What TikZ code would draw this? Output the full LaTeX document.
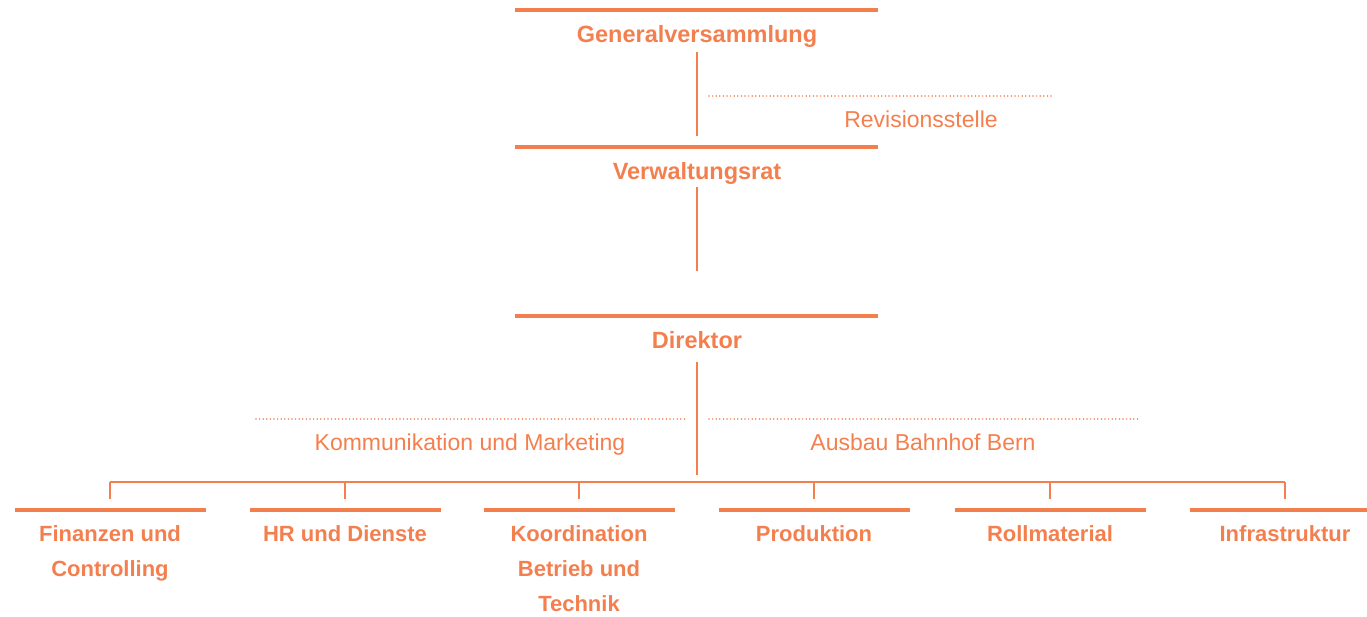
\documentclass[tikz,border=0pt]{standalone}
\usepackage{fontspec}
\setmainfont{Liberation Sans}
\definecolor{og}{HTML}{F47F4E}
\begin{document}
\begin{tikzpicture}[x=1pt,y=-1pt,
  bar/.style={draw=og,line width=4pt},
  conn/.style={draw=og,line width=1.5pt},
  dots/.style={draw=og,line width=1.7pt,dash pattern=on 0pt off 3.6pt,line cap=round},
  unit/.style={text=og,font=\fontsize{22}{35}\selectfont\bfseries,align=center,anchor=base,inner sep=0pt},
  head/.style={unit,font=\fontsize{23.5}{28}\selectfont\bfseries},
  staff/.style={text=og,font=\fontsize{23}{28}\selectfont,anchor=base,inner sep=0pt}]
\useasboundingbox (0,0) rectangle (1367,616);

% top levels
\draw[bar] (515,10) -- (878,10);
\node[head] (gv) at (697,42) {Generalversammlung};
\draw[bar] (515,147) -- (878,147);
\node[head] (vr) at (697,179) {Verwaltungsrat};
\draw[bar] (515,316) -- (878,316);
\node[head] (dir) at (697,348) {Direktor};

% trunk coordinates
\coordinate (gvb) at (697,52);
\coordinate (vrt) at (697,136);
\coordinate (vrb) at (697,187);
\coordinate (vrx) at (697,271);
\coordinate (dirb) at (697,362);
\coordinate (bus) at (697,475);
\draw[conn] (gvb) -- (vrt);
\draw[conn] (vrb) -- (vrx);
\draw[conn] (dirb) -- (bus);

% staff units
\coordinate (revl) at (709,96);
\coordinate (revr) at (1053,96);
\draw[dots] (revl) -- (revr);
\node[staff] (rev) at (921,127) {Revisionsstelle};

\coordinate (kml) at (256,419);
\coordinate (kmr) at (686,419);
\draw[dots] (kml) -- (kmr);
\node[staff] (km) at (470,450) {Kommunikation und Marketing};

\coordinate (abl) at (709,419);
\coordinate (abr) at (1138,419);
\draw[dots] (abl) -- (abr);
\node[staff] (ab) at (923,450) {Ausbau Bahnhof Bern};

% bus
\coordinate (busl) at (110,482);
\coordinate (busr) at (1285,482);
\draw[conn] (busl) -- (busr);

% departments (baseline of last line given)
\foreach \x/\b/\n/\t in {110/576/fin/{Finanzen und\\Controlling},
                      345/541/hr/{HR und Dienste},
                      579/611/kb/{Koordination\\Betrieb und\\Technik},
                      814/541/pr/{Produktion},
                      1050/541/rm/{Rollmaterial},
                      1285/541/inf/{Infrastruktur}}{
  \coordinate (\n-top) at (\x,482);
  \coordinate (\n-drop) at (\x,499);
  \draw[conn] (\n-top) -- (\n-drop);
  \draw[bar] ({\x-95.5},510) -- ({min(\x+95.5,1367)},510);
  \node[unit] (\n) at (\x,\b) {\t};
}
\end{tikzpicture}
\end{document}
